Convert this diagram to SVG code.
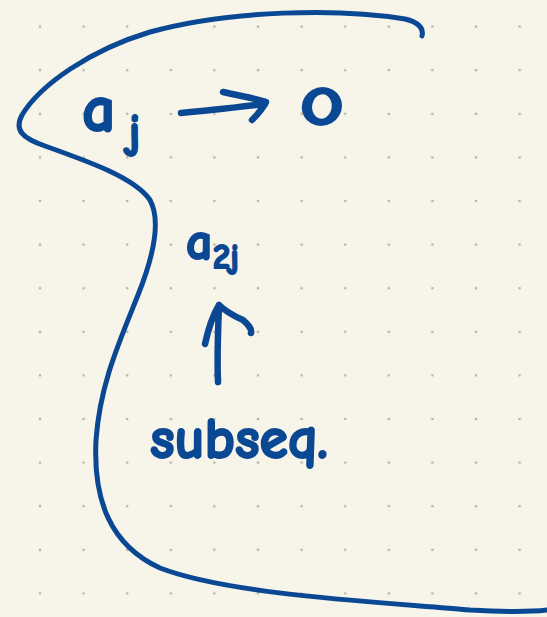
<svg xmlns="http://www.w3.org/2000/svg" width="547" height="617" viewBox="0 0 547 617">
<defs>
<pattern id="dots" x="18.2" y="4.8" width="43.6" height="43.6" patternUnits="userSpaceOnUse">
<circle cx="21.8" cy="21.8" r="1.3" fill="#B4B2AA"/>
</pattern>
<style>
.ink{fill:none;stroke:#0B4894;stroke-width:5;stroke-linecap:round;stroke-linejoin:round}
.arr{stroke-width:6.5}
.hw{fill:#0B4894;stroke:#0B4894;stroke-width:2;stroke-linejoin:round;font-family:"Comic Neue","DejaVu Sans","Liberation Sans",sans-serif;font-weight:bold}
</style>
</defs>
<rect width="547" height="617" fill="#F7F5EA"/>
<rect width="547" height="617" fill="url(#dots)"/>
<g id="region">
<path class="ink" d="M422,36 C424,28 418,22 405,19 C340,8 230,10 150,32 C90,50 40,85 22,115 C14,130 22,138 45,146 C90,162 135,178 150,200 C162,222 152,260 138,295 C118,345 100,385 96,440 C93,500 110,545 160,568 C230,595 380,602 470,610 C505,612 530,612 547,610"/>
</g>
<g id="aj">
<text class="hw" x="82" y="131" font-size="66">a</text>
<text class="hw" x="128" y="148" font-size="48">j</text>
</g>
<g id="zero">
<text class="hw" x="322" y="125" font-size="54" text-anchor="middle" transform="translate(322 0) scale(1.45 1) translate(-322 0)">0</text>
</g>
<g id="a2j">
<text class="hw" x="186" y="259" font-size="52">a</text>
<text class="hw" x="213" y="268" font-size="34">2j</text>
</g>
<g id="subseq">
<text class="hw" x="150" y="458" font-size="58" textLength="178" lengthAdjust="spacingAndGlyphs">subseq.</text>
</g>
<g id="connectors">
<path class="ink arr" d="M181,113 C205,111 240,107 265,104 M223,92 C240,96 258,99 266,102 C262,110 256,116 252,120"/>
<path class="ink arr" d="M218,382 C217,360 218,330 219,305 M205,344 C208,330 213,315 219,305 C226,312 234,316 243,320 C249,325 252,330 251,333"/>
</g>
</svg>
